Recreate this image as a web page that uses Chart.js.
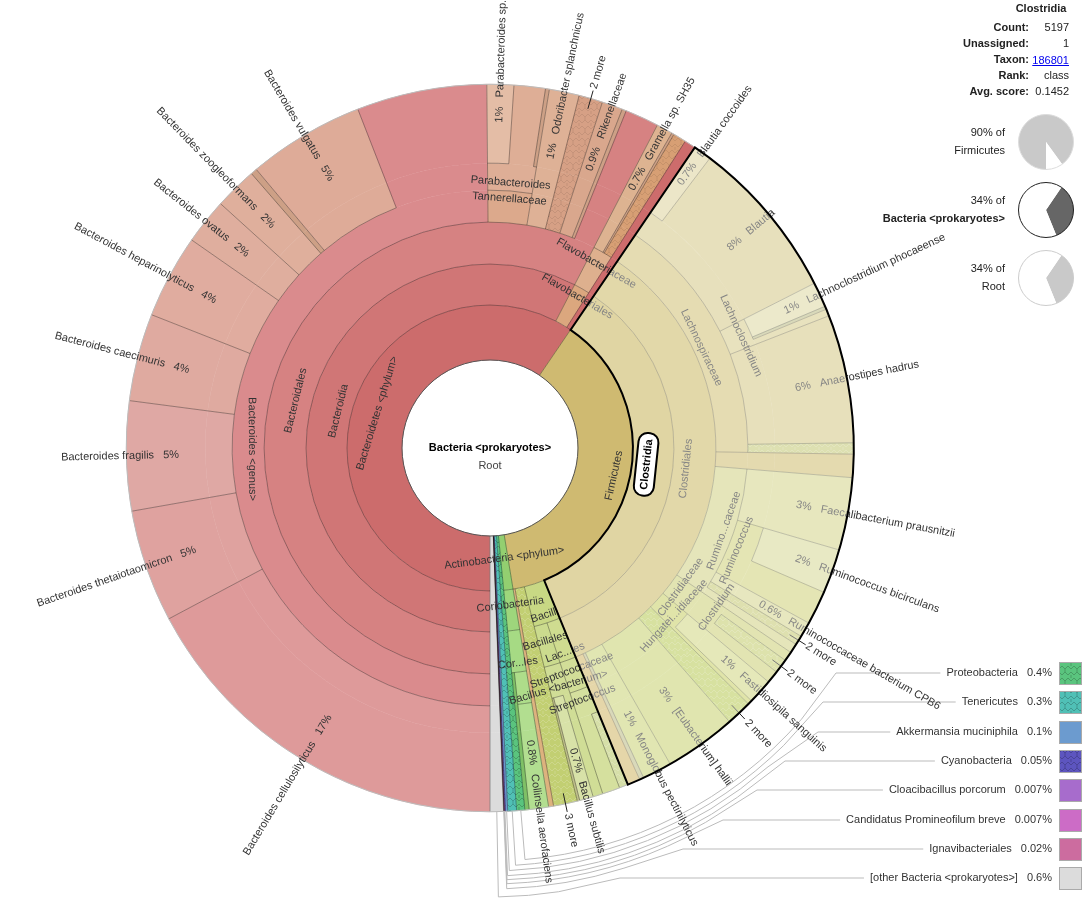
<!DOCTYPE html>
<html>
<head>
<meta charset="utf-8">
<title>Krona</title>
<script src="https://cdn.jsdelivr.net/npm/chart.js@4"></script>
<style>
html,body{margin:0;padding:0;background:#fff;overflow:hidden;}
canvas{position:absolute;}
a{position:absolute;left:1029px;top:54px;width:40px;text-align:right;font:11px "Liberation Sans",Arial,sans-serif;color:#00e;}
</style>
</head>
<body>
<canvas id="krona" width="1089" height="899" style="left:0;top:0"></canvas>
<canvas id="pie1" width="60" height="60" style="left:1016px;top:112px"></canvas>
<canvas id="pie2" width="60" height="60" style="left:1016px;top:180px"></canvas>
<canvas id="pie3" width="60" height="60" style="left:1016px;top:248px"></canvas>
<a href="#">186801</a>
<script>
// values are percent of all reads

// the small taxa at the end of every ring
const tailNames = ["Proteobacteria","Tenericutes","Akkermansia muciniphila","Cyanobacteria","Cloacibacillus porcorum","Candidatus Promineofilum breve","Ignavibacteriales","[other Bacteria <prokaryotes>]"];
const tailValues = [0.36,0.39,0.1,0.05,0.007,0.007,0.02,0.594];

const phylumNames = ["Bacteroidetes","Firmicutes","Actinobacteria"];
const phylumValues = [59.52,37.9,1.05];

const classNames = ["Bacteroidia","Flavobacteriia","Bacteroidetes","Clostridia","Bacilli","Bacilli other","Firmicutes other","Coriobacteriia"];
const classValues = [57.61,1.41,0.5,34.29,2.33,1.06,0.22,1.05];

const orderNames = ["Bacteroidales","Flavobacteriales","Bacteroidetes","Clostridiales","Lactobacillales","Bacillales","Bacilli other","Firmicutes other","Coriobacteriales"];
const orderValues = [57.61,1.41,0.5,34.29,1.17,1.16,1.06,0.22,1.05];

const familyNames = ["Bacteroides","Tannerellaceae","Odoribacter splanchnicus","Bacteroidales 2 more","Rikenellaceae","sliver","Bacteroidales","Gramella sp. SH35","sliver","Flavobacteriaceae more","Bacteroidetes",
  "Lachnospiraceae","Clostridiales","Ruminococcaceae","Clostridiaceae","Hungateiclostridiaceae","Clostridiales 2 more","[Eubacterium] hallii","Monoglobus pectinilyticus","sliver","Clostridiales",
  "Streptococcaceae","Bacillus <bacterium>","Bacilli other","Firmicutes other","Collinsella","sliver"];
const familyValues = [49.86,2.75,1.33,1.06,0.92,0.19,1.5,0.72,0.11,0.58,0.5,
  15.75,1.03,8.2,1.62,1.3,1.14,3.19,1.31,0.19,0.56,
  1.17,1.16,1.06,0.22,0.86,0.19];

const genusNames = ["B. cellulosilyticus","B. thetaiotaomicron","B. fragilis","B. caecimuris","B. heparinolyticus","B. ovatus","B. zoogleoformans","sliver","B. vulgatus","Bacteroides",
  "Parabacteroides","Odoribacter splanchnicus","Bacteroidales 2 more","Rikenellaceae","sliver","Bacteroidales","Gramella sp. SH35","sliver","Flavobacteriaceae more","Bacteroidetes",
  "Blautia","Lachnoclostridium","Anaerostipes hadrus","Lachnospiraceae more","Clostridiales","Faecalibacterium prausnitzii","Ruminococcus","CPB6","Ruminococcaceae 2 more","Ruminococcaceae",
  "Clostridium","Fastidiosipila sanguinis","sliver","Clostridiales 2 more","[Eubacterium] hallii","Monoglobus pectinilyticus","sliver","Clostridiales",
  "Streptococcus","Bacillus","Bacillus subtilis","sliver","Bacilli other","Firmicutes other","Collinsella aerofaciens","sliver"];
const genusValues = [17.22,5,4.86,3.89,3.72,2.03,1.89,0.28,5.19,5.78,
  2.75,1.33,1.06,0.92,0.19,1.5,0.72,0.11,0.58,0.5,
  8,1.56,5.69,0.5,1.03,3.22,3.47,0.67,0.42,0.42,
  1.62,1.11,0.19,1.14,3.19,1.31,0.19,0.56,
  1.17,0.44,0.61,0.11,1.06,0.22,0.86,0.19];

const speciesNames = ["Bacteroides cellulosilyticus","Bacteroides thetaiotaomicron","Bacteroides fragilis","Bacteroides caecimuris","Bacteroides heparinolyticus","Bacteroides ovatus","Bacteroides zoogleoformans","sliver","Bacteroides vulgatus","Bacteroides",
  "Parabacteroides sp.","Parabacteroides","sliver","Odoribacter splanchnicus","Bacteroidales 2 more","Rikenellaceae","sliver","Bacteroidales","Gramella sp. SH35","sliver","Flavobacteriaceae more","Bacteroidetes",
  "Blautia coccoides","Blautia","Lachnoclostridium phocaeense","sliver","Lachnoclostridium","Anaerostipes hadrus","Lachnospiraceae more","Clostridiales","Faecalibacterium prausnitzii","Ruminococcus bicirculans","Ruminococcus","Ruminococcaceae bacterium CPB6","Ruminococcaceae 2 more","Ruminococcaceae",
  "Clostridium","Clostridiaceae 2 more","Clostridiaceae","Fastidiosipila sanguinis","sliver","Clostridiales 2 more","[Eubacterium] hallii","Monoglobus pectinilyticus","sliver","Clostridiales",
  "Streptococcus more","Streptococcus","Bacillus","Bacillus subtilis","sliver","Bacilli 3 more","Firmicutes other","Collinsella aerofaciens","sliver"];
const speciesValues = [17.22,5,4.86,3.89,3.72,2.03,1.89,0.28,5.19,5.78,
  1.19,1.39,0.17,1.33,1.06,0.92,0.19,1.5,0.72,0.11,0.58,0.5,
  0.81,7.19,1.11,0.14,0.31,5.69,0.5,1.03,3.22,1.97,1.5,0.67,0.42,0.42,
  0.42,0.64,0.56,1.11,0.19,1.14,3.19,1.31,0.19,0.56,
  0.39,0.78,0.44,0.61,0.11,1.06,0.22,0.86,0.19];

const legendPercents = ["0.4%","0.3%","0.1%","0.05%","0.007%","0.007%","0.02%","0.6%"];

const firmicutesPie = [90,10];
const bacteriaPie = [34.3,65.7];
const rootPie = [34.3,65.7];

// colours. the ones under the Clostridia overlay are darker than they look
function hatch(base, ink){
  const c = document.createElement("canvas");
  c.width = 12; c.height = 12;
  const g = c.getContext("2d");
  g.fillStyle = base; g.fillRect(0,0,12,12);
  g.strokeStyle = ink; g.lineWidth = 1;
  g.beginPath();
  g.moveTo(0,3); g.lineTo(3,0); g.lineTo(6,3); g.lineTo(9,0); g.lineTo(12,3);
  g.moveTo(0,6); g.lineTo(3,9); g.lineTo(6,6); g.lineTo(9,9); g.lineTo(12,6);
  g.moveTo(3,3); g.lineTo(3,6); g.moveTo(9,9); g.lineTo(9,12);
  g.stroke();
  return g.createPattern(c,"repeat");
}
const pale = "rgba(255,255,255,.18)", ink = "rgba(0,0,0,.2)", faint = "rgba(0,0,0,.08)";

const tailColors = [hatch("#5ac47e",ink),hatch("#50c0b6",ink),"#6c9bcf",hatch("#5d55bf",ink),"#a76ccc","#cc6cc6","#cc6c9f","#dcdcdc"];

const redBand = "#cd6c6c", orangeHatch = hatch("#d79f74",faint), peach = "#ddb27e";
const bacilliHatch = hatch("#c2cf72",pale), odoribacter = "#deb196", rikHatch = hatch("#d6a085",faint), riken = "#d9a78d";
const sliverRed = "#cda086", sliverTan = "#c0c08c", bacteroidales = "#d68282", genusPink = "#da8b8d";
const gramella = "#ddb391", tannerella = "#dca98c", parabact = "#deae96";
const lachno = "#d4c57f", clostBand = "#d2c17a", rumino = "#d4d48c", clostTan = "#d4bb71";
const clostHatch1 = hatch("#c6cb7e",pale), clostHatch2 = hatch("#c8cb7a",pale), clostHatch3 = hatch("#bccd61",pale), clostHatch4 = hatch("#c6cf76",pale);
const hallii = "#cbd47b", monoglobus = "#cdd57f", blautia = "#d7cb8f", lachnoclost = "#d9cf93", anaero = "#d7cb8e";
const faecali = "#d7d793", ruminococcus = "#d2d482", cpb6 = "#d8d894", clostridium = "#cfd27f", fastid = "#d4d98a", hungatei = "#cbd271";
const strepFam = "#d2de98", bacillFam = "#d0dd96", strepGen = "#d5e09e", subtilis = "#d8e2a8";
const collinsella = "#b2de90", actinoSliver = "#7fc066";

const phylumColors = ["#cc6c6c","#cfba71","#93cf70"].concat(tailColors);
const classColors = ["#d07676","#dba77e",redBand,"#cbb966","#c8d884",bacilliHatch,peach,"#9ed67c"].concat(tailColors);
const orderColors = [bacteroidales,"#deb08e",redBand,"#cfbe71","#cfdc90","#cbdb8e",bacilliHatch,peach,"#a6da84"].concat(tailColors);
const familyColors = [genusPink,tannerella,odoribacter,rikHatch,riken,sliverRed,bacteroidales,gramella,sliverRed,orangeHatch,redBand,
  lachno,clostBand,rumino,clostridium,hungatei,clostHatch3,hallii,monoglobus,sliverTan,clostTan,
  strepFam,bacillFam,bacilliHatch,peach,"#aedd8a",actinoSliver].concat(tailColors);
const genusColors = ["#de9a9a","#dfa29f","#dfa8a4","#dfaaa0","#e0ac9f","#dfae9e","#dfaf9c",sliverRed,"#deab98",genusPink,
  parabact,odoribacter,rikHatch,riken,sliverRed,bacteroidales,gramella,sliverRed,orangeHatch,redBand,
  blautia,lachnoclost,anaero,clostHatch1,clostBand,faecali,ruminococcus,cpb6,clostHatch2,rumino,
  clostridium,fastid,hungatei,clostHatch3,hallii,monoglobus,sliverTan,clostTan,
  strepGen,bacillFam,subtilis,sliverTan,bacilliHatch,peach,collinsella,actinoSliver].concat(tailColors);
const speciesColors = ["#de9a9a","#dfa29f","#dfa8a4","#dfaaa0","#e0ac9f","#dfae9e","#dfaf9c",sliverRed,"#deab98",genusPink,
  "#e4bda6",parabact,sliverRed,odoribacter,rikHatch,riken,sliverRed,bacteroidales,gramella,sliverRed,orangeHatch,redBand,
  "#dfd5a3",blautia,"#dfdaa8",sliverTan,lachnoclost,anaero,clostHatch1,clostBand,faecali,"#d9da9d",ruminococcus,cpb6,clostHatch2,rumino,
  clostridium,clostHatch4,clostridium,fastid,hungatei,clostHatch3,hallii,monoglobus,sliverTan,clostTan,
  hatch("#d6dfa8",pale),strepGen,bacillFam,subtilis,sliverTan,bacilliHatch,peach,collinsella,actinoSliver].concat(tailColors);

// ring thickness in px, outermost first
const ringWeights = [79,27,32,42,41,55];
const holeRadius = 88;

function ring(names, values, colors, weight){
  return {
    label: "",
    names: names.concat(tailNames),
    data: values.concat(tailValues),
    backgroundColor: colors,
    borderColor: colors,
    borderWidth: 0.5,
    weight: weight
  };
}

const FONT = '"Liberation Sans", Arial, sans-serif';

// [ring 0=phylum..5=species, segment, text, distance from centre, optional shift in degrees]
const tangentLabels = [
  [0,0,"Bacteroidetes <phylum>",118],
  [0,1,"Firmicutes",127],
  [0,2,"Actinobacteria <phylum>",111],
  [1,0,"Bacteroidia",156],
  [1,1,"Flavobacteriales",175],
  [2,0,"Bacteroidales",200],
  [2,1,"Flavobacteriaceae",213],
  [3,0,"Bacteroides <genus>",238],
  [3,1,"Tannerellaceae",250],
  [4,10,"Parabacteroides",266],
  [2,3,"Clostridiales",197],
  [3,11,"Lachnospiraceae",234,2],
  [4,21,"Lachnoclostridium",275],
  [3,13,"Rumino...caceae",248],
  [4,26,"Ruminococcus",267],
  [3,14,"Clostridiaceae",236,-1],
  [3,15,"Hungatei...idiaceae",249],
  [4,30,"Clostridium",277,-2],
  [1,4,"Bacilli",176],
  [2,5,"Bacillales",201],
  [2,4,"Lac...les",218],
  [1,7,"Coriobacteriia",158],
  [2,8,"Cor...les",217],
  [3,21,"Streptococcaceae",237],
  [3,22,"Bacillus <bacterium>",249],
  [4,38,"Streptococcus",268]
];

// [species segment, text, distance of the text centre from the chart centre]
const radialLabels = [
  [0,"Bacteroides cellulosilyticus   17%",393],
  [1,"Bacteroides thetaiotaomicron   5%",395],
  [2,"Bacteroides fragilis   5%",370],
  [3,"Bacteroides caecimuris   4%",380],
  [4,"Bacteroides heparinolyticus   4%",391],
  [5,"Bacteroides ovatus   2%",369],
  [6,"Bacteroides zoogleoformans   2%",392],
  [8,"Bacteroides vulgatus   5%",375],
  [10,"1%   Parabacteroides sp.",387],
  [13,"1%   Odoribacter splanchnicus",370],
  [15,"0.9%   Rikenellaceae",346],
  [18,"0.7%   Gramella sp. SH35",358],
  [22,"0.7%   Blautia coccoides",385],
  [23,"8%   Blautia",340],
  [24,"1%   Lachnoclostridium phocaeense",413],
  [27,"6%   Anaerostipes hadrus",374],
  [30,"3%   Faecalibacterium prausnitzii",392],
  [31,"2%   Ruminococcus bicirculans",401],
  [33,"0.6%   Ruminococcaceae bacterium CPB6",415],
  [39,"1%   Fastidiosipila sanguinis",382],
  [42,"3%   [Eubacterium] hallii",354],
  [43,"1%   Monoglobus pectinilyticus",372],
  [49,"0.7%   Bacillus subtilis",366],
  [53,"0.8%   Collinsella aerofaciens",367]
];

// [species segment, text, text centre distance] with a small tick from the rim
const moreLabels = [
  [14,"2 more",391],
  [34,"2 more",390],
  [37,"2 more",390],
  [41,"2 more",392],
  [51,"3 more",391]
];

// legend layout: row y, where the horizontal part starts, arc radius
const legendRows = [
  [673,836,413],[702,823,418],[732,818,423],[761,785,428],
  [790,757,432],[820,723,436],[849,683,441],[878,620,449]
];

const infoRows = [["Count:","5197"],["Unassigned:","1"],["Taxon:",""],["Rank:","class"],["Avg. score:","0.1452"]];

function drawOutlines(ctx, chart){
  ctx.lineWidth = 1;
  ctx.strokeStyle = "rgba(0,0,0,.33)";
  for (let d = 0; d < ringWeights.length; d++){
    const arcs = chart.getDatasetMeta(d).data;
    const colors = chart.data.datasets[d].backgroundColor;
    arcs.forEach(a => {
      // end angle only, the next segment starts on the same line
      const t = a.endAngle;
      ctx.beginPath();
      ctx.moveTo(a.x+a.innerRadius*Math.cos(t), a.y+a.innerRadius*Math.sin(t));
      ctx.lineTo(a.x+a.outerRadius*Math.cos(t), a.y+a.outerRadius*Math.sin(t));
      ctx.stroke();
    });
    // arc between two rings only where the colour changes
    if (d < ringWeights.length-1){
      const inner = chart.getDatasetMeta(d+1).data;
      const innerColors = chart.data.datasets[d+1].backgroundColor;
      arcs.forEach((a,i) => {
        inner.forEach((b,j) => {
          const s = Math.max(a.startAngle,b.startAngle), e = Math.min(a.endAngle,b.endAngle);
          if (e > s && colors[i] !== innerColors[j]){
            ctx.beginPath();
            ctx.arc(a.x,a.y,a.innerRadius,s,e);
            ctx.stroke();
          }
        });
      });
    }
  }
}

function drawLabels(ctx, chart){
  ctx.font = "11px "+FONT;
  ctx.fillStyle = "#333";
  ctx.textAlign = "center";
  ctx.textBaseline = "middle";
  const arcOf = (r,i) => chart.getDatasetMeta(5-r).data[i];
  tangentLabels.forEach(l => {
    const a = arcOf(l[0],l[1]);
    const t = (a.startAngle+a.endAngle)/2 + (l[4]||0)*Math.PI/180;
    ctx.save();
    ctx.translate(a.x+l[3]*Math.cos(t), a.y+l[3]*Math.sin(t));
    ctx.rotate(Math.sin(t) > 0 ? t-Math.PI/2 : t+Math.PI/2);
    ctx.fillText(l[2],0,0);
    ctx.restore();
  });
  const radial = (t,x,y,text,r) => {
    ctx.save();
    ctx.translate(x+r*Math.cos(t), y+r*Math.sin(t));
    ctx.rotate(Math.cos(t) < 0 ? t+Math.PI : t);
    ctx.fillText(text,0,0);
    ctx.restore();
  };
  radialLabels.forEach(l => {
    const a = arcOf(5,l[0]);
    radial((a.startAngle+a.endAngle)/2,a.x,a.y,l[1],l[2]);
  });
  moreLabels.forEach(l => {
    const a = arcOf(5,l[0]);
    const t = (a.startAngle+a.endAngle)/2;
    ctx.strokeStyle = "#222";
    ctx.lineWidth = 1;
    ctx.beginPath();
    ctx.moveTo(a.x+353*Math.cos(t), a.y+353*Math.sin(t));
    ctx.lineTo(a.x+372*Math.cos(t), a.y+372*Math.sin(t));
    ctx.stroke();
    radial(t,a.x,a.y,l[1],l[2]);
  });
}

function drawFocus(ctx, chart){
  const a = chart.getDatasetMeta(4).data[3]; // Clostridia in the class ring
  const R = chart.getDatasetMeta(0).data[0].outerRadius;
  ctx.beginPath();
  ctx.arc(a.x,a.y,R,a.startAngle,a.endAngle);
  ctx.arc(a.x,a.y,a.innerRadius,a.endAngle,a.startAngle,true);
  ctx.closePath();
  ctx.fillStyle = "rgba(255,255,255,.4)";
  ctx.fill();
  ctx.strokeStyle = "#000";
  ctx.lineWidth = 2;
  ctx.stroke();
  // name box
  const t = (a.startAngle+a.endAngle)/2;
  ctx.save();
  ctx.translate(a.x+157*Math.cos(t), a.y+157*Math.sin(t));
  ctx.rotate(t-Math.PI/2);
  ctx.font = "bold 11px "+FONT;
  const w = ctx.measureText("Clostridia").width+12;
  ctx.beginPath();
  ctx.roundRect(-w/2,-10,w,20,9);
  ctx.fillStyle = "#fff";
  ctx.fill();
  ctx.stroke();
  ctx.fillStyle = "#000";
  ctx.textAlign = "center";
  ctx.textBaseline = "middle";
  ctx.fillText("Clostridia",0,0.5);
  ctx.restore();
}

function drawLegend(ctx, chart){
  const arcs = chart.getDatasetMeta(0).data;
  const first = arcs.length-tailNames.length;
  ctx.font = "11px "+FONT;
  ctx.textBaseline = "middle";
  tailNames.forEach((name,i) => {
    const a = arcs[first+i];
    const [y,knee,R] = legendRows[i];
    const t = (a.startAngle+a.endAngle)/2;
    const pct = legendPercents[i];
    const pw = ctx.measureText(pct).width;
    const nameEnd = 1052-pw-9;
    const nw = ctx.measureText(name).width;
    ctx.strokeStyle = "#bbb";
    ctx.lineWidth = 1;
    // arc angles run past a full turn because the rings start at the bottom
    const kneeT = Math.atan2(y-a.y,knee-a.x)+0.14+Math.PI*2;
    ctx.beginPath();
    ctx.moveTo(a.x+a.outerRadius*Math.cos(t), a.y+a.outerRadius*Math.sin(t));
    ctx.lineTo(a.x+R*Math.cos(t), a.y+R*Math.sin(t));
    ctx.arc(a.x,a.y,R,t,kneeT,true);
    ctx.lineTo(knee,y);
    ctx.lineTo(nameEnd-nw-6,y);
    ctx.stroke();
    ctx.fillStyle = "#333";
    ctx.textAlign = "right";
    ctx.fillText(name,nameEnd,y);
    ctx.fillText(pct,1052,y);
    ctx.fillStyle = chart.data.datasets[0].backgroundColor[first+i];
    ctx.fillRect(1059,y-11,23,23);
    ctx.strokeStyle = "#aaa";
    ctx.strokeRect(1059.5,y-10.5,22,22);
  });
}

function drawInfo(ctx){
  ctx.textBaseline = "middle";
  ctx.fillStyle = "#222";
  ctx.textAlign = "center";
  ctx.font = "bold 11px "+FONT;
  ctx.fillText("Clostridia",1041,9);
  infoRows.forEach((row,i) => {
    const y = 28+16*i;
    ctx.textAlign = "right";
    ctx.font = "bold 11px "+FONT;
    ctx.fillText(row[0],1029,y);
    ctx.font = "11px "+FONT;
    if (row[1]) ctx.fillText(row[1],1069,y);
  });
  ctx.font = "11px "+FONT;
  ctx.fillText("90% of",1005,133);
  ctx.fillText("Firmicutes",1005,151);
  ctx.fillText("34% of",1005,201);
  ctx.font = "bold 11px "+FONT;
  ctx.fillText("Bacteria <prokaryotes>",1005,219);
  ctx.font = "11px "+FONT;
  ctx.fillText("34% of",1005,269);
  ctx.fillText("Root",1005,287);
}

const kronaDrawing = {
  id: "kronaDrawing",
  afterDatasetsDraw(chart){
    const ctx = chart.ctx;
    const a = chart.getDatasetMeta(0).data[0];
    ctx.save();
    drawOutlines(ctx,chart);
    // rim and hole
    ctx.strokeStyle = "#bbb";
    ctx.lineWidth = 1;
    ctx.beginPath(); ctx.arc(a.x,a.y,a.outerRadius,0,Math.PI*2); ctx.stroke();
    ctx.strokeStyle = "#555";
    ctx.beginPath(); ctx.arc(a.x,a.y,holeRadius,0,Math.PI*2); ctx.stroke();
    drawLegend(ctx,chart);
    drawLabels(ctx,chart);
    drawFocus(ctx,chart);
    // centre
    ctx.textAlign = "center";
    ctx.textBaseline = "middle";
    ctx.fillStyle = "#000";
    ctx.font = "bold 11px "+FONT;
    ctx.fillText("Bacteria <prokaryotes>",a.x,a.y);
    ctx.fillStyle = "#444";
    ctx.font = "11px "+FONT;
    ctx.fillText("Root",a.x,a.y+18);
    drawInfo(ctx);
    ctx.restore();
  }
};

new Chart(document.getElementById("krona"), {
  type: "doughnut",
  data: {
    labels: speciesNames.concat(tailNames),
    datasets: [
      ring(speciesNames,speciesValues,speciesColors,ringWeights[0]),
      ring(genusNames,genusValues,genusColors,ringWeights[1]),
      ring(familyNames,familyValues,familyColors,ringWeights[2]),
      ring(orderNames,orderValues,orderColors,ringWeights[3]),
      ring(classNames,classValues,classColors,ringWeights[4]),
      ring(phylumNames,phylumValues,phylumColors,ringWeights[5])
    ]
  },
  options: {
    responsive: false,
    animation: false,
    events: [],
    rotation: 180,
    circumference: 360,
    cutout: holeRadius,
    layout: { padding: { left: 126, right: 235, top: 84, bottom: 87 } },
    plugins: { legend: { display: false }, tooltip: { enabled: false } }
  },
  plugins: [kronaDrawing]
});

// the three small pies on the right
function miniPie(id, values, rotation, fill, rimColor){
  new Chart(document.getElementById(id), {
    type: "pie",
    data: { labels: ["Clostridia","rest"], datasets: [{ data: values, backgroundColor: [fill,"#fff"], borderWidth: 0 }] },
    options: {
      responsive: false,
      animation: false,
      events: [],
      rotation: rotation,
      layout: { padding: 2.5 },
      plugins: { legend: { display: false }, tooltip: { enabled: false } }
    },
    plugins: [{
      id: "rim",
      afterDatasetsDraw(chart){
        const a = chart.getDatasetMeta(0).data[0];
        chart.ctx.strokeStyle = rimColor;
        chart.ctx.lineWidth = 1;
        chart.ctx.beginPath();
        chart.ctx.arc(a.x,a.y,a.outerRadius,0,Math.PI*2);
        chart.ctx.stroke();
      }
    }]
  });
}
miniPie("pie1",firmicutesPie,180,"#c9c9c9","#dcdcdc");
miniPie("pie2",bacteriaPie,34.3,"#666666","#222");
miniPie("pie3",rootPie,34.3,"#c9c9c9","#ccc");
</script>
</body>
</html>
